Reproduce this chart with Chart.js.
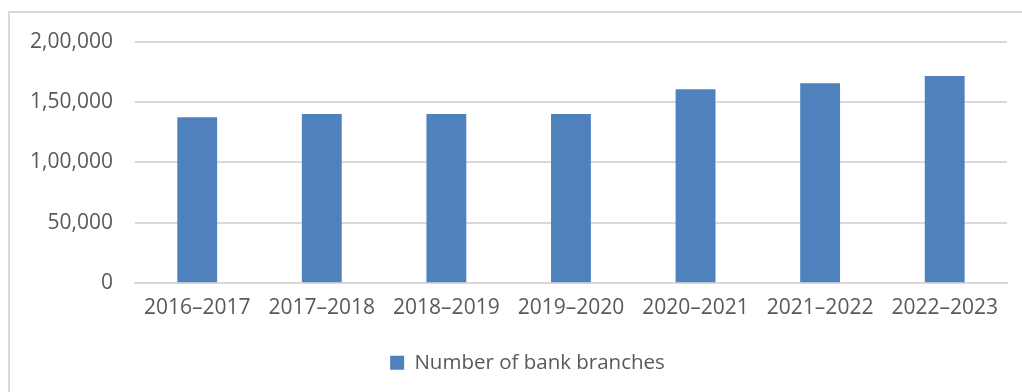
<!DOCTYPE html>
<html>
<head>
<meta charset="utf-8">
<script src="https://cdn.jsdelivr.net/npm/chart.js@4.4.1/dist/chart.umd.min.js"></script>
<style>
  html, body { margin: 0; padding: 0; background: #fff; }
  body { width: 1022px; height: 392px; overflow: hidden; position: relative; }
  .frame {
    position: absolute; left: 8px; top: 11px;
    width: 1030px; height: 400px;
    border: 2px solid #d9d9d9; box-sizing: border-box;
  }
  .wrap { position: absolute; left: 8px; top: 7px; width: 1014px; height: 385px; }
</style>
</head>
<body>
<div class="frame"></div>
<div class="wrap"><canvas id="branchChart"></canvas></div>
<script>
const years = ["2016–2017", "2017–2018", "2018–2019", "2019–2020", "2020–2021", "2021–2022", "2022–2023"];
const branches = [137500, 140000, 140000, 140000, 160500, 165500, 171500];
const yTicks = [0, 50000, 100000, 150000, 200000];

const seriesLabel = "Number of bank branches";
const textColor = "#595959";
const gridColor = "#d9d9d9";
const fontFamily = "'Open Sans', 'Liberation Sans', sans-serif";

// Indian digit grouping: 2,00,000
function formatIndian(value) {
  const s = String(Math.round(value));
  if (s.length <= 3) return s;
  const last = s.slice(-3);
  const rest = s.slice(0, -3).replace(/\B(?=(\d{2})+(?!\d))/g, ",");
  return rest + "," + last;
}

// legend in the original sits a little right of centre
const nudgeLegend = {
  id: "nudgeLegend",
  afterLayout(chart) {
    if (chart.legend) chart.legend.left += 40;
  }
};

new Chart(document.getElementById("branchChart"), {
  type: "bar",
  data: {
    labels: years,
    datasets: [{
      label: seriesLabel,
      data: branches,
      backgroundColor: "#4f81bd",
      barPercentage: 0.32,
      categoryPercentage: 1
    }]
  },
  plugins: [nudgeLegend],
  options: {
    responsive: true,
    maintainAspectRatio: false,
    animation: false,
    layout: { padding: { left: 0, right: 15, top: 6, bottom: 9 } },
    plugins: {
      tooltip: { enabled: false },
      legend: {
        position: "bottom",
        labels: {
          color: textColor,
          font: { family: fontFamily, size: 20.5 },
          boxWidth: 14,
          boxHeight: 14,
          padding: 20
        }
      }
    },
    scales: {
      x: {
        grid: { display: false, drawTicks: false },
        border: { display: true, color: gridColor, width: 2 },
        ticks: {
          color: textColor,
          font: { family: fontFamily, size: 21 },
          padding: 12,
          maxRotation: 0
        }
      },
      y: {
        min: 0,
        max: 200000,
        afterBuildTicks: (axis) => { axis.ticks = yTicks.map((v) => ({ value: v })); },
        grid: { color: gridColor, lineWidth: 2, drawTicks: false },
        border: { display: false },
        ticks: {
          color: textColor,
          font: { family: fontFamily, size: 21 },
          padding: 22,
          callback: (value) => formatIndian(value)
        }
      }
    }
  }
});
</script>
</body>
</html>
